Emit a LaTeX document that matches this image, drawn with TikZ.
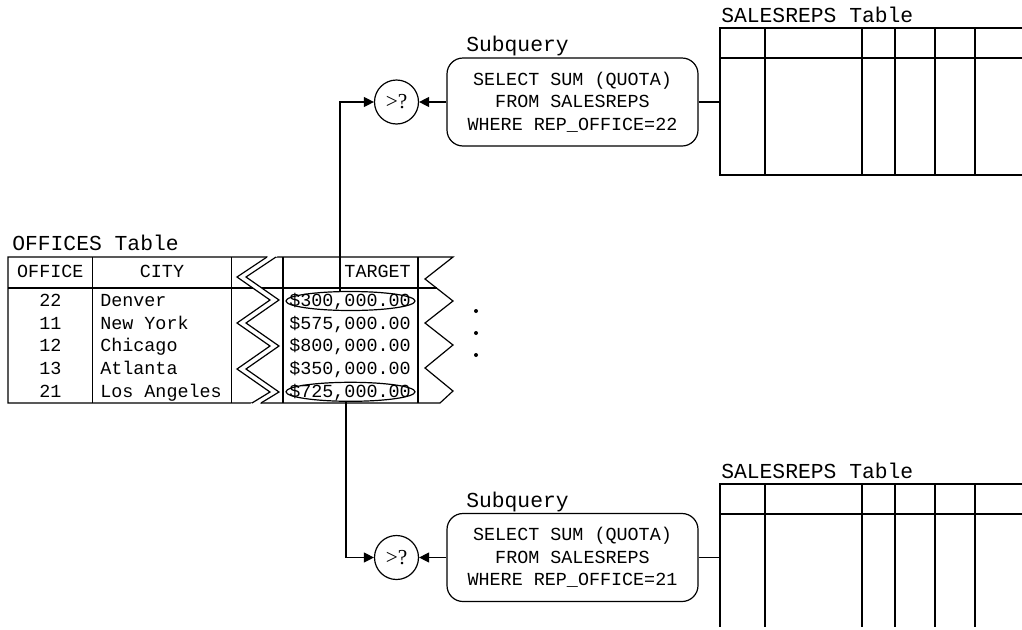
\documentclass[tikz,border=0pt]{standalone}
\usepackage{fontspec}
\setmonofont{Liberation Mono}
\newfontfamily\cmpfont{Liberation Serif}
\usetikzlibrary{arrows.meta,shapes.geometric}
\tikzset{
 tbl/.style={line width=.9pt},
 arr/.style={line width=.9pt,-{Triangle[length=7.5pt,width=7.5pt]}},
 cell/.style={inner sep=0pt,text height=9pt,text depth=1pt,font=\ttfamily\fontsize{13.8}{16.9}\selectfont},
 ttl/.style={inner sep=0pt,anchor=base west,font=\ttfamily\fontsize{16}{19}\selectfont},
 hl/.style={draw,ellipse,line width=.9pt,inner sep=0pt,minimum width=96.75pt,minimum height=14.25pt},
 cmp/.style={draw,circle,line width=.9pt,inner sep=0pt,minimum size=33pt,font=\cmpfont\fontsize{16}{19}\selectfont},
 sqbox/.style={draw,rounded corners=12pt,line width=.9pt,minimum width=188.25pt,minimum height=66pt,align=center,inner sep=0pt,font=\ttfamily\fontsize{13.8}{16.9}\selectfont}
}
\begin{document}
\begin{tikzpicture}[x=.75pt,y=-.75pt]
\useasboundingbox (0,0) rectangle (1022,629);
% OFFICES table
\node[ttl] (offttl) at (12,250) {OFFICES Table};
\draw[tbl] (8,257) -- (453,257) -- (425,279) -- (453,301) -- (425,323) -- (453,345) -- (425,368) -- (453,391) -- (440,403) -- (8,403) -- cycle;
\draw[tbl] (8,288) -- (436.5,288);
\foreach \x in {92.7,231.5,283,418}{\draw[tbl] (\x,257) -- (\x,403);}
% break between the columns
\fill[white] (270,255) -- (237,277) -- (270,300) -- (237,323) -- (270,346) -- (237,369) -- (270,392) -- (248.7,405) -- (257.7,405) -- (279,392) -- (246,369) -- (279,346) -- (246,323) -- (279,300) -- (246,277) -- (279,255) -- cycle;
\foreach \dx in {0,9}{
 \draw[tbl] (267+\dx,257) -- (237+\dx,277) -- (270+\dx,300) -- (237+\dx,323) -- (270+\dx,346) -- (237+\dx,369) -- (270+\dx,392) -- (252+\dx,403);
}
\node[cell] (hoff) at (50.3,272.5) {OFFICE};
\node[cell] (hcity) at (162,272.5) {CITY};
\node[cell,anchor=east] (htgt) at (411,272.5) {TARGET};
\foreach \y/\off/\city/\tgt [count=\i] in {301/22/Denver/{\$300,000.00},323.7/11/New York/{\$575,000.00},346.4/12/Chicago/{\$800,000.00},369.1/13/Atlanta/{\$350,000.00},391.8/21/Los Angeles/{\$725,000.00}}{
 \node[cell] (off\i) at (50.3,\y) {\off};
 \node[cell,anchor=west] (city\i) at (100,\y) {\city};
 \node[cell,anchor=east] (tgt\i) at (411,\y) {\tgt};
}
\node[hl] (hl1) at (350.5,301) {};
\node[hl] (hl5) at (350.5,391.8) {};
\foreach \y in {311,333,355}{\fill (476,\y) circle (1.5pt);}
% SALESREPS tables
\node[ttl] (srttl1) at (721,22.7) {SALESREPS Table};
\node[ttl] (srttl2) at (721,478.5) {SALESREPS Table};
\draw[tbl] (1022,28) -- (720,28) -- (720,175) -- (1022,175);
\draw[tbl] (720,58) -- (1022,58);
\draw[tbl] (1022,484) -- (720,484) -- (720,627);
\draw[tbl] (720,514) -- (1022,514);
\foreach \x in {765,862,895,935,975}{
 \draw[tbl] (\x,28) -- (\x,175);
 \draw[tbl] (\x,484) -- (\x,627);
}
% subqueries
\node[ttl] (sub1) at (466,51) {Subquery};
\node[sqbox] (sq1) at (572.5,102) {SELECT SUM (QUOTA)\\FROM SALESREPS\\WHERE REP\_OFFICE=22};
\node[cmp] (cmp1) at (396.5,102) {>?};
\node[ttl] (sub2) at (466,507.3) {Subquery};
\node[sqbox] (sq2) at (572.5,557.5) {SELECT SUM (QUOTA)\\FROM SALESREPS\\WHERE REP\_OFFICE=21};
\node[cmp] (cmp2) at (396.5,557.5) {>?};
\coordinate (sr1) at (720,102);
\coordinate (sr2) at (720,557.5);
\draw[tbl] (sq1.east) -- (sr1);
\draw[tbl] (sq2.east) -- (sr2);
\draw[arr] (sq1.west) -- (cmp1.east);
\draw[arr] (sq2.west) -- (cmp2.east);
\draw[arr] (hl1.north) ++(-10.5,0) |- (cmp1.west);
\draw[arr] (hl5.south) ++(-4.5,0) |- (cmp2.west);
\end{tikzpicture}
\end{document}
